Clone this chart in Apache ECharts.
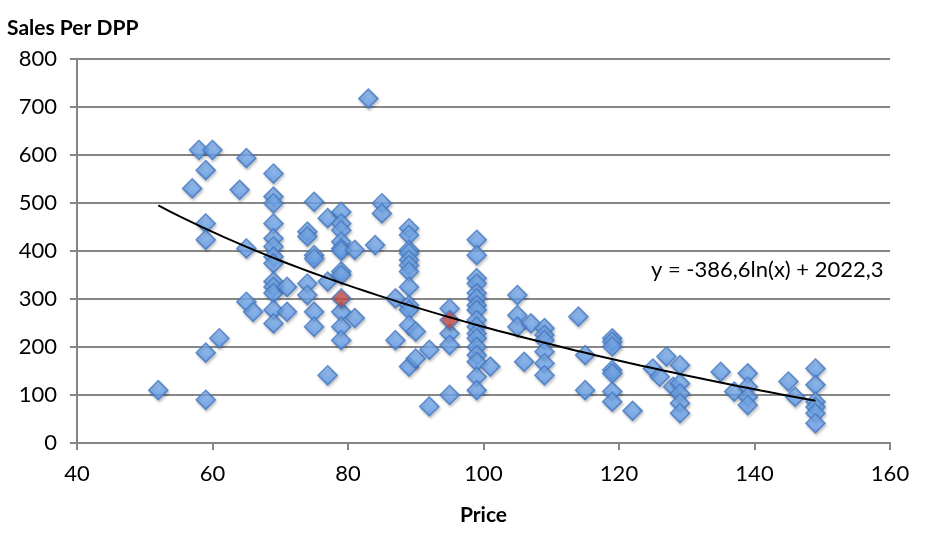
<!DOCTYPE html>
<html><head><meta charset="utf-8">
<script src="https://cdn.jsdelivr.net/npm/echarts@6/dist/echarts.min.js"></script>
<style>html,body{margin:0;padding:0;background:#fff}#c{width:934px;height:556px}</style>
</head><body><div id="c"></div>
<script>
// Data (price, sales per DPP)
const priceBlue = [52,57,58,59,59,59,59,59,60,61,64,65,65,65,66,
 69,69,69,69,69,69,69,69,69,69,69,69,69,71,71,74,74,74,74,75,75,75,75,75,77,77,77,
 79,79,79,79,79,79,79,79,79,79,79,81,81,83,84,85,85,87,87,
 89,89,89,89,89,89,89,89,89,89,89,89,90,90,92,92,95,95,95,95,
 99,99,99,99,99,99,99,99,99,99,99,99,99,99,99,99,99,101,105,105,105,106,107,
 109,109,109,109,109,109,114,115,115,119,119,119,119,119,119,119,122,125,126,127,128,
 129,129,129,129,129,135,137,139,139,139,139,145,146,149,149,149,149,149,149];
const salesBlue = [110,530,610,568,457,423,188,90,610,218,527,593,405,294,273,
 561,513,499,457,426,409,388,374,336,325,312,277,249,325,273,440,430,332,308,502,391,384,273,242,468,336,141,
 481,457,443,419,405,357,350,273,242,214,400,402,260,717,412,499,478,301,214,
 447,433,402,395,381,370,357,325,287,277,245,159,232,176,194,76,280,228,204,100,
 423,391,343,332,312,301,287,277,256,242,228,218,200,183,169,138,110,159,308,266,242,169,249,
 239,225,214,190,166,141,263,183,110,218,211,201,152,145,107,86,67,155,138,180,117,
 162,124,103,83,62,148,107,145,117,96,79,128,96,155,121,86,75,62,41];
const priceRed = [79,95];
const salesRed = [301,256];
// Trendline coefficients as printed: y = a*ln(x) + b
const trendA = -386.6, trendB = 2022.3;
const trendMin = 52, trendMax = 149;
const xTicks = [40,60,80,100,120,140,160];
const yTicks = [0,100,200,300,400,500,600,700,800];

const blueData = priceBlue.map((p,i)=>[p,salesBlue[i]]);
const redData = priceRed.map((p,i)=>[p,salesRed[i]]);
const trendData = [];
for (let k=0;k<=60;k++){ const x = trendMin + (trendMax-trendMin)*k/60; trendData.push([x, trendA*Math.log(x)+trendB]); }

const FONT = 'Lato';
const chart = echarts.init(document.getElementById('c'), null, {renderer:'canvas'});
const diamondStyle = (top, bot, border) => ({
  color: new echarts.graphic.LinearGradient(0,0,0,1,[{offset:0,color:top},{offset:1,color:bot}]),
  borderColor: border, borderWidth: 1.6,
  shadowColor: 'rgba(0,0,0,0.25)', shadowBlur: 3, shadowOffsetX: 1, shadowOffsetY: 2
});
chart.setOption({
  animation:false,
  backgroundColor:'#ffffff',
  grid:{left:77, right:44, top:58.7, bottom:113},
  xAxis:{type:'value', min:40, max:160, interval:20,
    name:'Price', nameLocation:'middle', nameGap:62,
    nameTextStyle:{fontFamily:FONT, fontWeight:'bold', fontSize:21, color:'#000'},
    axisLine:{show:true, lineStyle:{color:'#868686', width:2}},
    axisTick:{show:true, inside:false, length:7, lineStyle:{color:'#868686', width:2}},
    axisLabel:{fontFamily:FONT, fontSize:22, color:'#000', margin:20},
    splitLine:{show:false}},
  yAxis:{type:'value', min:0, max:800, interval:100,
    axisLine:{show:true, lineStyle:{color:'#868686', width:2}},
    axisTick:{show:true, inside:false, length:7, lineStyle:{color:'#868686', width:2}},
    axisLabel:{fontFamily:FONT, fontSize:22, color:'#000', margin:20},
    splitLine:{show:true, lineStyle:{color:'#868686', width:2}}},
  graphic:[
    {type:'text', left:7, top:18, style:{text:'Sales Per DPP', font:'bold 21px Lato', fill:'#000'}},
    {type:'text', left:651, top:259, style:{text:'y = -386,6ln(x) + 2022,3', font:'22px Lato', fill:'#000'}}
  ],
  series:[
    {type:'scatter', data:blueData, symbol:'diamond', symbolSize:19,
      itemStyle:diamondStyle('#8fc0fa','#5a95e6','#4479c6'), z:2},
    {type:'scatter', data:redData, symbol:'diamond', symbolSize:19,
      itemStyle:diamondStyle('#d9605c','#bb4440','#4479c6'), z:3},
    {type:'line', data:trendData, showSymbol:false, smooth:false,
      lineStyle:{color:'#000', width:2}, z:4}
  ]
});
</script></body></html>
